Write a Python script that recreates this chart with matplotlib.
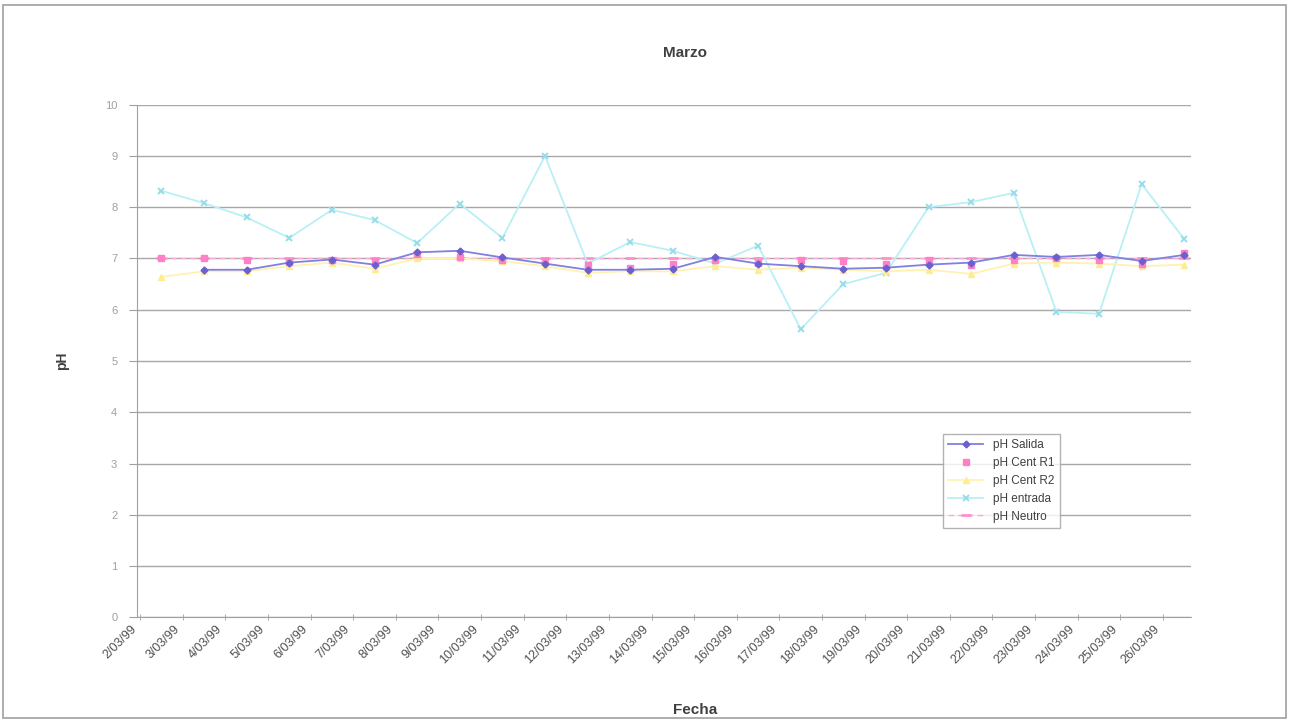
import matplotlib
matplotlib.use("Agg")
import matplotlib.pyplot as plt
from matplotlib.patches import Rectangle
from matplotlib.transforms import ScaledTranslation

plt.rcParams['font.family'] = ['Liberation Sans', 'DejaVu Sans']

fechas = ["2/03/99", "3/03/99", "4/03/99", "5/03/99", "6/03/99", "7/03/99",
          "8/03/99", "9/03/99", "10/03/99", "11/03/99", "12/03/99", "13/03/99",
          "14/03/99", "15/03/99", "16/03/99", "17/03/99", "18/03/99", "19/03/99",
          "20/03/99", "21/03/99", "22/03/99", "23/03/99", "24/03/99", "25/03/99",
          "26/03/99"]

ph_salida = [None, 6.78, 6.78, 6.92, 6.98, 6.88, 7.12, 7.15, 7.02, 6.9,
             6.78, 6.78, 6.8, 7.03, 6.9, 6.85, 6.8, 6.82, 6.88, 6.92,
             7.07, 7.03, 7.07, 6.95, 7.07]
ph_cent_r1 = [7.0, 7.0, 6.97, 6.93, 6.97, 6.95, 7.08, 7.02, 6.97, 6.95,
              6.88, 6.82, 6.9, 6.97, 6.92, 6.98, 6.95, 6.9, 6.97, 6.88,
              6.98, 7.0, 6.97, 6.9, 7.1]
ph_cent_r2 = [6.64, 6.75, 6.75, 6.85, 6.92, 6.8, 7.0, 7.0, 6.95, 6.85,
              6.72, 6.75, 6.75, 6.85, 6.78, 6.82, 6.78, 6.75, 6.78, 6.7,
              6.9, 6.92, 6.9, 6.85, 6.88]
ph_entrada = [8.32, 8.08, 7.8, 7.4, 7.95, 7.75, 7.3, 8.07, 7.4, 9.0,
              6.9, 7.32, 7.15, 6.9, 7.25, 5.62, 6.5, 6.72, 8.0, 8.1,
              8.28, 5.96, 5.92, 8.45, 7.38]
ph_neutro = [7.0] * 25

x = list(range(len(fechas)))

fig = plt.figure(figsize=(12.9, 7.22), dpi=100)
ax = fig.add_axes([0.106, 0.145, 0.817, 0.71])

ax.plot(x, ph_neutro, color="#ffa8d8", lw=1, ls=(0, (4, 3)), marker="_",
        ms=7, mew=2, mec="#ff90cc", label="pH Neutro", zorder=2)
ax.plot(x, ph_entrada, color="#b8f0f6", lw=1.3, marker="x", ms=5,
        mec="#98dcea", mew=1.4, label="pH entrada", zorder=3, clip_on=False)
ax.plot(x, ph_cent_r2, color="#fff2b0", lw=1.3, marker="^", ms=4.5,
        mec="#ffec90", mfc="#ffec90", label="pH Cent R2", zorder=4)
ax.plot(x, ph_cent_r1, ls="none", marker="s", ms=5,
        mfc="#ff80c4", mec="#ff80c4", label="pH Cent R1", zorder=5, clip_on=False)
ax.plot(x, ph_salida, color="#8080e0", lw=1.3, marker="D", ms=3.5,
        mfc="#6a60d0", mec="#6a60d0", label="pH Salida", zorder=6, clip_on=False)

ax.set_xlim(-0.58, 24.15)
ax.set_ylim(0, 10)
ax.set_yticks(range(0, 11))
ax.yaxis.grid(True, color="#a8a8a8", lw=1)
ax.set_axisbelow(True)

for side in ["top", "right"]:
    ax.spines[side].set_visible(False)
ax.spines["left"].set_color("#a0a0a0")
ax.spines["bottom"].set_color("#a0a0a0")

ax.tick_params(axis="y", colors="#a0a0a0", labelsize=8, length=6, pad=8)
ax.set_xticks(x)
ax.set_xticklabels(fechas, rotation=45, ha="right", va="top",
                   fontsize=9, color="#505050")
ax.tick_params(axis="x", which="major", length=0, pad=4)
ax.set_xticks([i - 0.5 for i in x], minor=True)
ax.tick_params(axis="x", which="minor", length=4, direction="inout",
               color="#a0a0a0")
shift = ScaledTranslation(-0.22, 0, fig.dpi_scale_trans)
for lab in ax.get_xticklabels():
    lab.set_transform(lab.get_transform() + shift)

ax.set_title("Marzo", fontsize=11, fontweight="bold", color="#404040",
             x=0.52, pad=34)
ax.set_ylabel("pH", fontsize=10, fontweight="bold", color="#404040", labelpad=26)
ax.set_xlabel("Fecha", fontsize=11, fontweight="bold", color="#404040")
ax.xaxis.set_label_coords(0.53, -0.168)

handles, labels = ax.get_legend_handles_labels()
order = [4, 3, 2, 1, 0]
leg = ax.legend([handles[i] for i in order], [labels[i] for i in order],
                loc="lower left", bbox_to_anchor=(0.759, 0.163),
                fontsize=8.5, frameon=True, fancybox=False, edgecolor="#a0a0a0",
                handlelength=3, borderpad=0.45, labelspacing=0.5)
for t in leg.get_texts():
    t.set_color("#404040")

fig.patches.append(Rectangle((0.002, 0.006), 0.995, 0.987, transform=fig.transFigure,
                             fill=False, edgecolor="#a0a0a0", lw=1.2))

fig.savefig("out.png", dpi=100)
